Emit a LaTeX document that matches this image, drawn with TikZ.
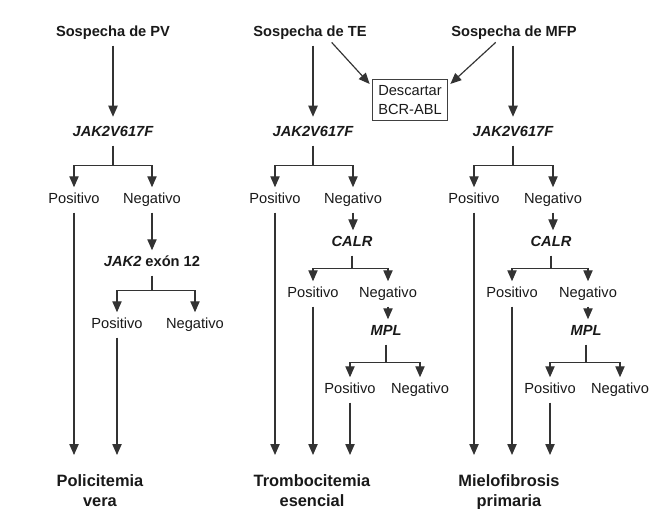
\documentclass[tikz,border=0pt]{standalone}
\usepackage{fontspec}
\setmainfont{Liberation Sans}
\usetikzlibrary{arrows.meta,positioning,calc}

\begin{document}
\begin{tikzpicture}[
    x=0.03cm, y=-0.03cm,
    every node/.style={font=\fontsize{12.5}{16}\selectfont, text=black!90},
    lbl/.style={inner sep=0pt, text height=9pt, text depth=2.5pt, outer sep=0.18cm},
    head/.style={lbl, font=\fontsize{12.5}{16}\selectfont\bfseries},
    gene/.style={lbl, font=\fontsize{12.5}{16}\selectfont\bfseries\itshape},
    result/.style={anchor=north, align=center, inner sep=0pt,
                   font=\fontsize{14}{17}\selectfont\bfseries},
    rule/.style={draw=black!75, line width=0.9pt, minimum width=2.25cm,
                 minimum height=1.23cm, align=center, inner sep=2pt},
    line/.style={draw=black!80, line width=1pt},
    arr/.style={line, -{Triangle[width=2.8mm,length=3.3mm]}},
    long/.style={arr, shorten >=0.57cm}
  ]
  \useasboundingbox (0,0) rectangle (656,508);

  % suspicions
  \node[head] (S1) at (113,33) {Sospecha de PV};
  \node[head] (S2) at (310,33) {Sospecha de TE};
  \node[head] (S3) at (514,33) {Sospecha de MFP};
  \node[rule] (B) at (410,100) {Descartar\\BCR-ABL};

  % first test
  \node[gene] (J1) at (113,133) {JAK2V617F};
  \node[gene] (J2) at (313,133) {JAK2V617F};
  \node[gene] (J3) at (513,133) {JAK2V617F};

  \draw[arr, shorten >=3pt] (S1.south) -- (J1.north);
  \draw[arr, shorten >=3pt] (S2.south -| J2) -- (J2.north);
  \draw[arr, shorten >=3pt] (S3.south -| J3) -- (J3.north);
  \draw[arr] ([xshift=0.65cm,yshift=0.1cm]S2.south) -- ([xshift=-2pt,yshift=-0.15cm]B.north west);
  \draw[arr] ([xshift=-0.55cm,yshift=0.1cm]S3.south) -- ([xshift=2pt,yshift=-0.15cm]B.north east);

  % results of JAK2V617F
  \node[lbl] (P1a) at (74,200) {Positivo};
  \node[lbl] (N1a) at (152,200) {Negativo};
  \node[lbl] (P2a) at (275,200) {Positivo};
  \node[lbl] (N2a) at (353,200) {Negativo};
  \node[lbl] (P3a) at (474,200) {Positivo};
  \node[lbl] (N3a) at (553,200) {Negativo};

  \draw[line] (J1.south) -- ++(0,20) coordinate (j1f);
  \draw[arr] (j1f) -| (P1a);
  \draw[arr] (j1f) -| (N1a);
  \draw[line] (J2.south) -- ++(0,20) coordinate (j2f);
  \draw[arr] (j2f) -| (P2a);
  \draw[arr] (j2f) -| (N2a);
  \draw[line] (J3.south) -- ++(0,20) coordinate (j3f);
  \draw[arr] (j3f) -| (P3a);
  \draw[arr] (j3f) -| (N3a);

  % PV: JAK2 exon 12
  \node[head] (X1) at (152,263) {\textit{JAK2} exón 12};
  \node[lbl] (P1b) at (117,325) {Positivo};
  \node[lbl] (N1b) at (195,325) {Negativo};
  \draw[arr] (N1a.south) -- (N1a.south |- X1.north);
  \draw[line] (X1.south) -- ++(0,15) coordinate (x1f);
  \draw[arr] (x1f) -| (P1b);
  \draw[arr] (x1f) -| (N1b);

  % TE: CALR, MPL
  \node[gene] (C2) at (352,243) {CALR};
  \node[lbl] (P2b) at (313,294) {Positivo};
  \node[lbl] (N2b) at (388,294) {Negativo};
  \node[gene] (M2) at (386,332) {MPL};
  \node[lbl] (P2c) at (350,390) {Positivo};
  \node[lbl] (N2c) at (420,390) {Negativo};
  \draw[arr] (N2a.south) -- (N2a.south |- C2.north);
  \draw[line] (C2.south) -- ++(0,13) coordinate (c2f);
  \draw[arr] (c2f) -| (P2b);
  \draw[arr] (c2f) -| (N2b);
  \draw[arr] (N2b.south) -- (N2b.south |- M2.north);
  \draw[line] (M2.south) -- ++(0,18) coordinate (m2f);
  \draw[arr] (m2f) -| (P2c);
  \draw[arr] (m2f) -| (N2c);

  % MFP: CALR, MPL
  \node[gene] (C3) at (551,243) {CALR};
  \node[lbl] (P3b) at (512,294) {Positivo};
  \node[lbl] (N3b) at (588,294) {Negativo};
  \node[gene] (M3) at (586,332) {MPL};
  \node[lbl] (P3c) at (550,390) {Positivo};
  \node[lbl] (N3c) at (620,390) {Negativo};
  \draw[arr] (N3a.south) -- (N3a.south |- C3.north);
  \draw[line] (C3.south) -- ++(0,13) coordinate (c3f);
  \draw[arr] (c3f) -| (P3b);
  \draw[arr] (c3f) -| (N3b);
  \draw[arr] (N3b.south) -- (N3b.south |- M3.north);
  \draw[line] (M3.south) -- ++(0,18) coordinate (m3f);
  \draw[arr] (m3f) -| (P3c);
  \draw[arr] (m3f) -| (N3c);

  % diagnoses
  \node[result] (R1) at (100,474) {Policitemia\\vera};
  \node[result] (R2) at (312,474) {Trombocitemia\\esencial};
  \node[result] (R3) at (509,474) {Mielofibrosis\\primaria};

  \draw[long] (P1a.south) -- (P1a.south |- R1.north);
  \draw[long] (P1b.south) -- (P1b.south |- R1.north);
  \draw[long] (P2a.south) -- (P2a.south |- R2.north);
  \draw[long] (P2b.south) -- (P2b.south |- R2.north);
  \draw[long] (P2c.south) -- (P2c.south |- R2.north);
  \draw[long] (P3a.south) -- (P3a.south |- R3.north);
  \draw[long] (P3b.south) -- (P3b.south |- R3.north);
  \draw[long] (P3c.south) -- (P3c.south |- R3.north);
\end{tikzpicture}
\end{document}
